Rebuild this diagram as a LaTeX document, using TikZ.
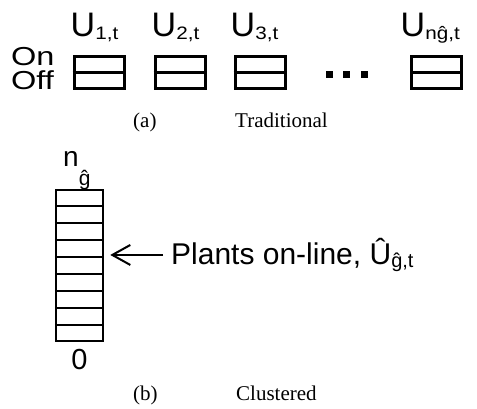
\documentclass[tikz,border=0pt]{standalone}
\usepackage{fontspec}
\setmainfont{Liberation Serif}
\setsansfont{Liberation Sans}
\newfontfamily\subsans[FakeStretch=1.15]{Liberation Sans}
\newfontfamily\onoff[FakeStretch=1.25]{Liberation Sans}
\usetikzlibrary{arrows.meta,calc}
\newcommand{\ulab}[1]{{\fontsize{34}{34}\selectfont U}{\subsans\fontsize{18}{18}\selectfont\raisebox{-3pt}{#1}}}
\begin{document}
\begin{tikzpicture}[x=1pt,y=-1pt,
  lab/.style={font=\sffamily, inner sep=0pt, anchor=base west},
  onofflab/.style={font=\onoff\fontsize{26}{26}\selectfont, inner sep=0pt, anchor=base west, text height=19pt, text depth=0pt},
  unitbox/.style={draw, line width=3pt, minimum width=50pt, minimum height=32pt, inner sep=0pt},
  dotsq/.style={fill, minimum size=7pt, inner sep=0pt},
  captxt/.style={font=\rmfamily\fontsize{21}{21}\selectfont, inner sep=0pt, anchor=base west},
  arr/.style={-{Straight Barb[length=18pt,width=20pt,line width=2pt]}, line width=2pt}]
\useasboundingbox (0,0) rectangle (477,409);

% (a) traditional
\node[lab] (u1) at (70.5,37) {\ulab{1,t}};
\node[lab] (u2) at (151.5,37) {\ulab{2,t}};
\node[lab] (u3) at (230.5,37) {\ulab{3,t}};
\node[lab] (un) at (400.5,37) {\ulab{nĝ,t}};

\node[onofflab] (on) at (11,66) {On};
\node[onofflab] (off) at (11,90) {Off};

\foreach \n/\x in {b1/99, b2/180, b3/260, bn/436.5} {
  \node[unitbox] (\n) at (\x,72.5) {};
  \draw[line width=3pt] (\n.west) -- (\n.east);
}
\node[dotsq] (d1) at (329.5,74.5) {};
\node[dotsq] (d2) at (346.5,74.5) {};
\node[dotsq] (d3) at (364.5,74.5) {};

\node[captxt] (capa) at (133,128) {(a)};
\node[captxt] (capat) at (235,128) {Traditional};

% (b) clustered
\node[lab] (ng) at (63,167) {{\fontsize{28}{28}\selectfont n}\raisebox{-19pt}{\fontsize{21}{21}\selectfont ĝ}};
\node[draw, line width=2.5pt, minimum width=47pt, minimum height=151pt, inner sep=0pt] (col) at (79.5,265.5) {};
\foreach \k in {1,...,8} {
  \draw[line width=2.5pt] ($(col.north west)!\k/9!(col.south west)$) -- ($(col.north east)!\k/9!(col.south east)$);
}
\node[lab, anchor=base, font=\sffamily\fontsize{29}{29}\selectfont] (zero) at (79.5,369) {0};

\node[lab] (plants) at (171,265) {{\fontsize{30}{30}\selectfont Plants on-line, Û}\raisebox{-2pt}{\fontsize{20}{20}\selectfont ĝ,t}};
\draw[arr, shorten <=8pt, shorten >=6pt] (plants.west) -- (plants.west -| col.east);

\node[captxt] (capb) at (133,400) {(b)};
\node[captxt] (capbt) at (236,400) {Clustered};
\end{tikzpicture}
\end{document}
